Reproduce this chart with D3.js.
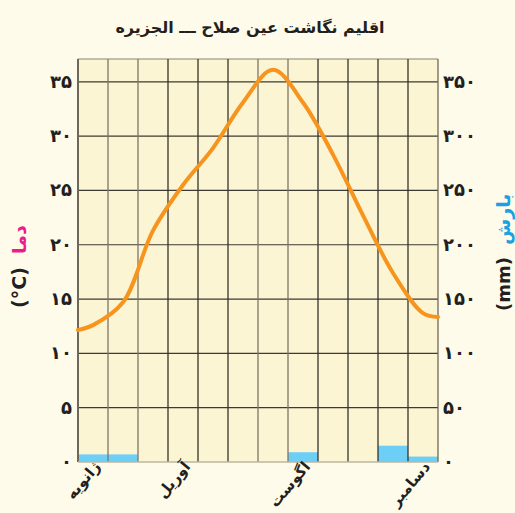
<!DOCTYPE html>
<html>
<head>
<meta charset="utf-8">
<script src="https://cdn.jsdelivr.net/npm/d3@7"></script>
<style>
  html, body { margin: 0; padding: 0; background: #fefbea; }
  svg { display: block; }
  text { font-family: "DejaVu Sans", sans-serif; }
</style>
</head>
<body>
<svg id="chart" width="515" height="513"></svg>
<script>
// ---- data ----
const title = "اقلیم نگاشت عین صلاح ـــ الجزیره";
const months = ["1","2","3","4","5","6","7","8","9","10","11","12"];
const monthLabels = {"1":"ژانویه","4":"آوریل","8":"اگوست","12":"دسامبر"};
const temperature = [12.6, 14.7, 21.3, 25.5, 28.9, 33.1, 36.1, 33.1, 28.3, 22.7, 17.4, 13.7];
const temperatureEdges = [12.15, 13.35]; // year start / year end
const precipitation = [7, 7, 0, 0, 0, 0, 0, 9, 0, 0, 15, 5];
const tempTicks = [0, 5, 10, 15, 20, 25, 30, 35];
const tempTickLabels = ["۰","۵","۱۰","۱۵","۲۰","۲۵","۳۰","۳۵"];
const precipTicks = [0, 50, 100, 150, 200, 250, 300, 350];
const precipTickLabels = ["۰","۵۰","۱۰۰","۱۵۰","۲۰۰","۲۵۰","۳۰۰","۳۵۰"];
const leftTitle = ["دما", "(°C)"];
const rightTitle = ["بارش", "(mm)"];

// ---- layout ----
const svg = d3.select("#chart");
const L = 78, R = 438, T = 59, B = 462;

const x = d3.scaleBand().domain(months).range([L, R]).padding(0);
const y = d3.scaleLinear().domain([0, 37.1]).range([B, T]);
const yP = d3.scaleLinear().domain([0, 371]).range([B, T]);

// plot background
svg.append("rect").attr("x", L).attr("y", T).attr("width", R - L).attr("height", B - T)
  .attr("fill", "#fcf5d4");

// precipitation bars
svg.append("g").selectAll("rect").data(precipitation).join("rect")
  .attr("x", (d, i) => x(months[i]))
  .attr("width", x.bandwidth())
  .attr("y", d => yP(d))
  .attr("height", d => B - yP(d))
  .attr("fill", "#6dcff6");

// grid
const grid = svg.append("g");
grid.selectAll("line.h").data(tempTicks.filter(t => t > 0)).join("line")
  .attr("x1", L).attr("x2", R)
  .attr("y1", d => y(d)).attr("y2", d => y(d))
  .attr("stroke", "#3d3a33").attr("stroke-width", 1.2);
grid.append("line").attr("x1", L).attr("x2", R).attr("y1", T).attr("y2", T)
  .attr("stroke", "#8a8470").attr("stroke-width", 1.2);
const vlines = months.map(m => x(m)).concat([R]);
grid.selectAll("line.v").data(vlines).join("line")
  .attr("x1", d => d).attr("x2", d => d)
  .attr("y1", T).attr("y2", B)
  .attr("stroke", (d, i) => (i === 0 || i === 12) ? "#6e6858" : ([1, 2, 6, 7].includes(i) ? "#7d7565" : "#35332e"))
  .attr("stroke-width", (d, i) => (i === 0) ? 2 : 1.3);
grid.append("line").attr("x1", L).attr("x2", R).attr("y1", B).attr("y2", B)
  .attr("stroke", "#bdb6a0").attr("stroke-width", 1.5);

// temperature curve
const pts = [[L, temperatureEdges[0]]]
  .concat(temperature.map((t, i) => [x(months[i]) + x.bandwidth() / 2, t]))
  .concat([[R, temperatureEdges[1]]]);
const line = d3.line().x(d => d[0]).y(d => y(d[1])).curve(d3.curveCatmullRom.alpha(0.5));
svg.append("path").attr("d", line(pts))
  .attr("fill", "none").attr("stroke", "#f7941d").attr("stroke-width", 4)
  .attr("stroke-linecap", "round");

// left axis labels
svg.append("g").selectAll("text").data(tempTicks).join("text")
  .attr("x", 72).attr("y", d => y(d) + 6)
  .attr("text-anchor", "end")
  .attr("font-size", 18).attr("font-weight", "bold").attr("fill", "#231f20")
  .text((d, i) => tempTickLabels[i]);

// right axis labels
svg.append("g").selectAll("text").data(precipTicks).join("text")
  .attr("x", 443).attr("y", d => yP(d) + 6)
  .attr("text-anchor", "start")
  .attr("font-size", 18).attr("font-weight", "bold").attr("fill", "#231f20")
  .text((d, i) => precipTickLabels[i]);

// month labels
svg.append("g").selectAll("text").data(months.filter(m => monthLabels[m])).join("text")
  .attr("transform", m => `translate(${x(m) + x.bandwidth() / 2 + 8},${B + 5}) rotate(-50)`)
  .attr("text-anchor", "end")
  .attr("font-size", 15).attr("font-weight", "bold").attr("fill", "#231f20")
  .text(m => monthLabels[m]);

// axis titles (rotated, reading bottom to top)
const lt = svg.append("g").attr("transform", "translate(26,0) rotate(-90)");
lt.append("text").attr("x", -254).attr("y", 0).attr("text-anchor", "start")
  .attr("font-size", 19).attr("font-weight", "bold").attr("fill", "#ec1c8c").text(leftTitle[0]);
lt.append("text").attr("x", -308).attr("y", 0).attr("text-anchor", "start")
  .attr("font-size", 19).attr("font-weight", "bold").attr("fill", "#231f20").text(leftTitle[1]);

const rt = svg.append("g").attr("transform", "translate(510,0) rotate(-90)");
rt.append("text").attr("x", -245).attr("y", 0).attr("text-anchor", "start")
  .attr("font-size", 19).attr("font-weight", "bold").attr("fill", "#1ba1e2").text(rightTitle[0]);
rt.append("text").attr("x", -311).attr("y", 0).attr("text-anchor", "start")
  .attr("font-size", 18).attr("font-weight", "bold").attr("fill", "#231f20").text(rightTitle[1]);

// title
svg.append("text").attr("x", 250).attr("y", 33).attr("text-anchor", "middle")
  .attr("font-size", 16).attr("font-weight", "bold").attr("fill", "#231f20")
  .text(title);
</script>
</body>
</html>
